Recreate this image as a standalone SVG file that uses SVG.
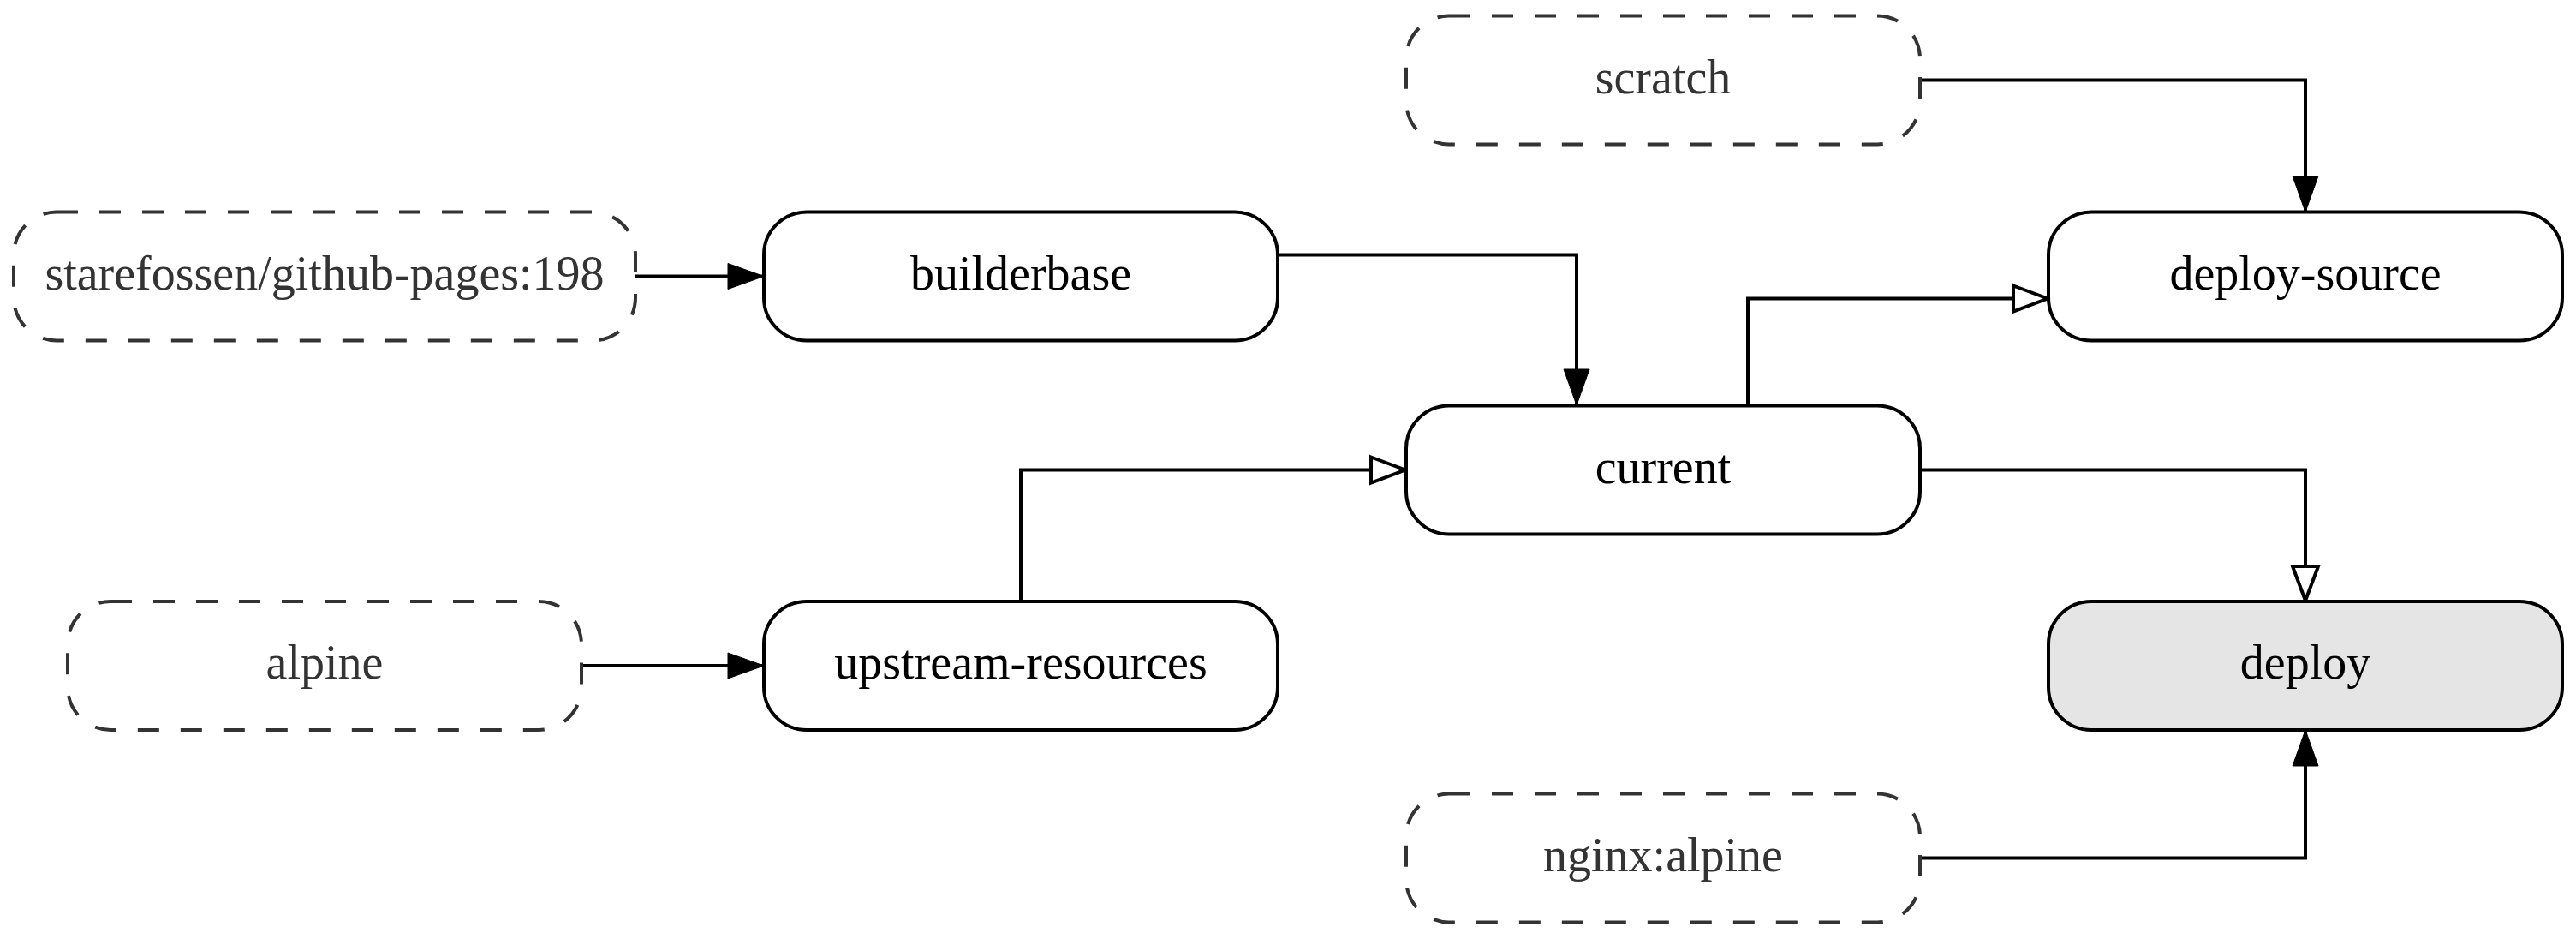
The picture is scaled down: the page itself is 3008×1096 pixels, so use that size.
<svg xmlns="http://www.w3.org/2000/svg" width="3008" height="1096" viewBox="0 0 3008 1096">
<style>
.node rect{stroke:#000;stroke-width:4;fill:#fff}
.ext rect{stroke:#333;stroke-width:4;fill:#fff;stroke-dasharray:25 25}
.node text{font-family:"Liberation Serif","Times New Roman",serif;font-size:56px;text-anchor:middle;fill:#000}
.ext text{fill:#333}
.edge{fill:none;stroke:#000;stroke-width:4}
</style>
<defs>
<marker id="af" markerUnits="userSpaceOnUse" markerWidth="50" markerHeight="40" refX="44" refY="20" orient="auto" viewBox="0 0 50 40">
<path d="M2,5 L44,20 L2,35 Z" fill="#000" stroke="#000" stroke-width="1"/>
</marker>
<marker id="ao" markerUnits="userSpaceOnUse" markerWidth="50" markerHeight="40" refX="44" refY="20" orient="auto" viewBox="0 0 50 40">
<path d="M3,5 L43,20 L3,35 Z" fill="#fff" stroke="#000" stroke-width="4"/>
</marker>
</defs>
<rect width="3008" height="1096" fill="#fff"/>
<g id="edges">
<path class="edge" d="M742,322.5 H892" marker-end="url(#af)"/>
<path class="edge" d="M1492,297.5 H1841 V473" marker-end="url(#af)"/>
<path class="edge" d="M1192,702 V548.5 H1642" marker-end="url(#ao)"/>
<path class="edge" d="M2041,473 V348.5 H2392" marker-end="url(#ao)"/>
<path class="edge" d="M2242,93.5 H2692 V247.5" marker-end="url(#af)"/>
<path class="edge" d="M2242,548.5 H2692 V702" marker-end="url(#ao)"/>
<path class="edge" d="M2242,1001.5 H2692 V852" marker-end="url(#af)"/>
<path class="edge" d="M679,777 H892" marker-end="url(#af)"/>
</g>
<g id="starefossen" class="node ext"><rect x="16" y="247.5" width="726" height="150" rx="50" ry="50"/><text x="379" y="337.5">starefossen/github-pages:198</text></g>
<g id="builderbase" class="node"><rect x="892" y="247.5" width="600" height="150" rx="50" ry="50"/><text x="1192" y="337.5">builderbase</text></g>
<g id="scratch" class="node ext"><rect x="1642" y="18.5" width="600" height="150" rx="50" ry="50"/><text x="1942" y="108.5">scratch</text></g>
<g id="deploy-source" class="node"><rect x="2392" y="247.5" width="600" height="150" rx="50" ry="50"/><text x="2692" y="337.5">deploy-source</text></g>
<g id="current" class="node"><rect x="1642" y="473.5" width="600" height="150" rx="50" ry="50"/><text x="1942" y="563.5">current</text></g>
<g id="alpine" class="node ext"><rect x="79" y="702" width="600" height="150" rx="50" ry="50"/><text x="379" y="792">alpine</text></g>
<g id="upstream-resources" class="node"><rect x="892" y="702" width="600" height="150" rx="50" ry="50"/><text x="1192" y="792">upstream-resources</text></g>
<g id="deploy" class="node"><rect x="2392" y="702" width="600" height="150" rx="50" ry="50" style="fill:#e5e5e5"/><text x="2692" y="792">deploy</text></g>
<g id="nginx-alpine" class="node ext"><rect x="1642" y="926.5" width="600" height="150" rx="50" ry="50"/><text x="1942" y="1016.5">nginx:alpine</text></g>
</svg>
